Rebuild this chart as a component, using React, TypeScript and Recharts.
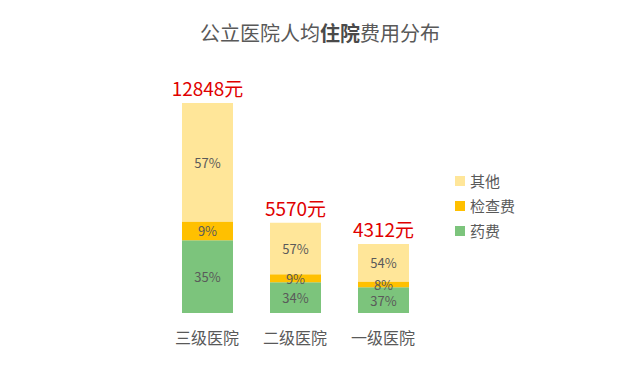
import React from 'react';
import { BarChart, Bar, XAxis, YAxis, LabelList } from 'recharts';

const categories = ['三级医院', '二级医院', '一级医院'];
const totals = [12848, 5570, 4312];
const drugPct = [35, 34, 37];
const examPct = [9, 9, 8];
const otherPct = [57, 57, 54];

const seriesNames = { drug: '药费', exam: '检查费', other: '其他' };
const colors = { drug: '#7cc47c', exam: '#ffc000', other: '#ffe699' };

const data = categories.map((name, i) => ({
  name,
  total: totals[i],
  drug: (totals[i] * drugPct[i]) / 100,
  exam: (totals[i] * examPct[i]) / 100,
  other: (totals[i] * otherPct[i]) / 100,
  drugPct: drugPct[i],
  examPct: examPct[i],
  otherPct: otherPct[i],
}));

const FONT = '"Noto Sans CJK SC", "Noto Sans", sans-serif';

const pctLabel = (key: string) => (props: any) => {
  const { x, y, width, height, index } = props;
  const pct = (data[index] as any)[key];
  return (
    <text
      x={x + width / 2}
      y={y + height / 2}
      textAnchor="middle"
      dominantBaseline="central"
      fontSize={13}
      fill="#5a5a5a"
      fontFamily={FONT}
    >
      {pct}%
    </text>
  );
};

const totalLabel = (props: any) => {
  const { x, y, width, index } = props;
  return (
    <text
      x={x + width / 2}
      y={y - 7}
      textAnchor="middle"
      fontSize={19}
      fill="#e00000"
      fontFamily={FONT}
    >
      {totals[index]}元
    </text>
  );
};

const legendOrder: Array<'other' | 'exam' | 'drug'> = ['other', 'exam', 'drug'];

const App: React.FC = () => {
  return (
    <div style={{ position: 'absolute', left: 0, top: 0, width: 640, height: 370, background: '#fff', fontFamily: FONT }}>
      <div
        style={{
          position: 'absolute',
          top: 20,
          left: 0,
          width: 640,
          textAlign: 'center',
          fontSize: 20,
          color: '#595959',
          lineHeight: '26px',
        }}
      >
        公立医院人均<b style={{ color: '#4a4a4a' }}>住院</b>费用分布
      </div>
      <BarChart
        width={640}
        height={370}
        data={data}
        margin={{ top: 103, right: 213, bottom: 27, left: 163 }}
        barSize={51}
      >
        <XAxis
          dataKey="name"
          axisLine={false}
          tickLine={false}
          height={30}
          tickMargin={14}
          tick={{ fontSize: 16, fill: '#595959', fontFamily: FONT }}
        />
        <YAxis hide domain={[0, 'dataMax']} />
        <Bar dataKey="drug" stackId="a" fill={colors.drug} isAnimationActive={false}>
          <LabelList dataKey="drug" content={pctLabel('drugPct')} />
        </Bar>
        <Bar dataKey="exam" stackId="a" fill={colors.exam} isAnimationActive={false}>
          <LabelList dataKey="exam" content={pctLabel('examPct')} />
        </Bar>
        <Bar dataKey="other" stackId="a" fill={colors.other} isAnimationActive={false}>
          <LabelList dataKey="other" content={pctLabel('otherPct')} />
          <LabelList dataKey="total" content={totalLabel} />
        </Bar>
      </BarChart>
      <div style={{ position: 'absolute', left: 455, top: 168 }}>
        {legendOrder.map((k) => (
          <div key={k} style={{ display: 'flex', alignItems: 'center', height: 25 }}>
            <span style={{ width: 10, height: 10, background: colors[k], marginRight: 5, display: 'inline-block' }} />
            <span style={{ fontSize: 15, color: '#595959' }}>{seriesNames[k]}</span>
          </div>
        ))}
      </div>
    </div>
  );
};

export default App;
